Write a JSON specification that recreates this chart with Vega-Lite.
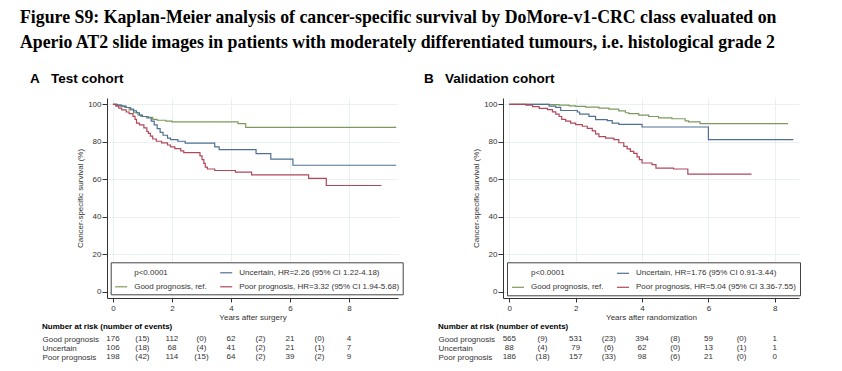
{
  "$schema": "https://vega.github.io/schema/vega-lite/v6.json",
  "background": "white",
  "padding": {"left": 20, "top": 8, "right": 43, "bottom": 11},
  "title": {
    "text": ["Figure S9: Kaplan-Meier analysis of cancer-specific survival by DoMore-v1-CRC class evaluated on", "Aperio AT2 slide images in patients with moderately differentiated tumours, i.e. histological grade 2"],
    "anchor": "start", "frame": "group", "dx": -87,
    "font": "Liberation Serif", "fontSize": 17.8, "fontWeight": "bold", "color": "#000",
    "lineHeight": 25, "offset": 20
  },
  "datasets": {
    "kmA": [
      {"g":"Good prognosis","t":0,"s":100},{"g":"Good prognosis","t":0.1,"s":99.6},{"g":"Good prognosis","t":0.25,"s":99},{"g":"Good prognosis","t":0.4,"s":98.3},{"g":"Good prognosis","t":0.55,"s":97},{"g":"Good prognosis","t":0.7,"s":95.5},{"g":"Good prognosis","t":0.85,"s":94.3},{"g":"Good prognosis","t":0.95,"s":93.5},{"g":"Good prognosis","t":1.2,"s":93},{"g":"Good prognosis","t":1.35,"s":92},{"g":"Good prognosis","t":1.5,"s":91.5},{"g":"Good prognosis","t":1.8,"s":91},{"g":"Good prognosis","t":2.0,"s":90.6},{"g":"Good prognosis","t":4.24,"s":89.7},{"g":"Good prognosis","t":4.5,"s":87.7},{"g":"Good prognosis","t":9.6,"s":87.7},
      {"g":"Uncertain","t":0,"s":100},{"g":"Uncertain","t":0.15,"s":99.5},{"g":"Uncertain","t":0.3,"s":99},{"g":"Uncertain","t":0.45,"s":98.3},{"g":"Uncertain","t":0.6,"s":97.5},{"g":"Uncertain","t":0.7,"s":96.5},{"g":"Uncertain","t":0.8,"s":95.5},{"g":"Uncertain","t":0.9,"s":94.2},{"g":"Uncertain","t":1.0,"s":93.5},{"g":"Uncertain","t":1.15,"s":92.7},{"g":"Uncertain","t":1.3,"s":91},{"g":"Uncertain","t":1.4,"s":89},{"g":"Uncertain","t":1.5,"s":87},{"g":"Uncertain","t":1.6,"s":85},{"g":"Uncertain","t":1.7,"s":83.5},{"g":"Uncertain","t":1.85,"s":82},{"g":"Uncertain","t":1.95,"s":81.2},{"g":"Uncertain","t":2.2,"s":80.3},{"g":"Uncertain","t":2.45,"s":79.3},{"g":"Uncertain","t":3.45,"s":77.3},{"g":"Uncertain","t":3.6,"s":75.8},{"g":"Uncertain","t":4.85,"s":73.7},{"g":"Uncertain","t":5.35,"s":70.8},{"g":"Uncertain","t":6.1,"s":67.5},{"g":"Uncertain","t":9.6,"s":67.5},
      {"g":"Poor prognosis","t":0,"s":100},{"g":"Poor prognosis","t":0.1,"s":99},{"g":"Poor prognosis","t":0.2,"s":98},{"g":"Poor prognosis","t":0.3,"s":97},{"g":"Poor prognosis","t":0.45,"s":95.9},{"g":"Poor prognosis","t":0.55,"s":95},{"g":"Poor prognosis","t":0.68,"s":93.6},{"g":"Poor prognosis","t":0.75,"s":92},{"g":"Poor prognosis","t":0.8,"s":90},{"g":"Poor prognosis","t":0.9,"s":89},{"g":"Poor prognosis","t":1.05,"s":87.4},{"g":"Poor prognosis","t":1.15,"s":85.5},{"g":"Poor prognosis","t":1.2,"s":84.5},{"g":"Poor prognosis","t":1.27,"s":83},{"g":"Poor prognosis","t":1.35,"s":81.5},{"g":"Poor prognosis","t":1.47,"s":80.3},{"g":"Poor prognosis","t":1.65,"s":79.4},{"g":"Poor prognosis","t":1.85,"s":78.3},{"g":"Poor prognosis","t":1.95,"s":77.3},{"g":"Poor prognosis","t":2.1,"s":76.4},{"g":"Poor prognosis","t":2.3,"s":75.2},{"g":"Poor prognosis","t":2.4,"s":74.2},{"g":"Poor prognosis","t":2.95,"s":72.5},{"g":"Poor prognosis","t":3.02,"s":70.5},{"g":"Poor prognosis","t":3.08,"s":68.5},{"g":"Poor prognosis","t":3.13,"s":66.5},{"g":"Poor prognosis","t":3.2,"s":65.5},{"g":"Poor prognosis","t":3.45,"s":64.7},{"g":"Poor prognosis","t":4.15,"s":63.8},{"g":"Poor prognosis","t":4.7,"s":62.4},{"g":"Poor prognosis","t":6.63,"s":60.5},{"g":"Poor prognosis","t":7.23,"s":56.7},{"g":"Poor prognosis","t":9.1,"s":56.7}
    ],
    "kmB": [
      {"g":"Good prognosis","t":0,"s":100},{"g":"Good prognosis","t":1.2,"s":99.8},{"g":"Good prognosis","t":1.5,"s":99.5},{"g":"Good prognosis","t":1.8,"s":99.2},{"g":"Good prognosis","t":2.0,"s":98.9},{"g":"Good prognosis","t":2.3,"s":98.5},{"g":"Good prognosis","t":2.7,"s":98},{"g":"Good prognosis","t":3.0,"s":97.4},{"g":"Good prognosis","t":3.3,"s":96.5},{"g":"Good prognosis","t":3.5,"s":95.5},{"g":"Good prognosis","t":3.6,"s":95},{"g":"Good prognosis","t":3.9,"s":94.2},{"g":"Good prognosis","t":4.2,"s":93.5},{"g":"Good prognosis","t":4.5,"s":92.8},{"g":"Good prognosis","t":4.9,"s":92.3},{"g":"Good prognosis","t":5.3,"s":91.2},{"g":"Good prognosis","t":5.4,"s":90.6},{"g":"Good prognosis","t":5.75,"s":89.7},{"g":"Good prognosis","t":8.4,"s":89.7},
      {"g":"Uncertain","t":0,"s":100},{"g":"Uncertain","t":1.2,"s":99},{"g":"Uncertain","t":1.4,"s":98.4},{"g":"Uncertain","t":1.55,"s":96.7},{"g":"Uncertain","t":2.05,"s":95.9},{"g":"Uncertain","t":2.12,"s":94.8},{"g":"Uncertain","t":2.4,"s":93.6},{"g":"Uncertain","t":2.6,"s":91.8},{"g":"Uncertain","t":2.95,"s":91.3},{"g":"Uncertain","t":3.1,"s":90},{"g":"Uncertain","t":3.3,"s":89.3},{"g":"Uncertain","t":4.0,"s":87.9},{"g":"Uncertain","t":6.0,"s":81.2},{"g":"Uncertain","t":8.56,"s":81.2},
      {"g":"Poor prognosis","t":0,"s":100},{"g":"Poor prognosis","t":0.5,"s":99.5},{"g":"Poor prognosis","t":0.7,"s":98.8},{"g":"Poor prognosis","t":0.9,"s":97.8},{"g":"Poor prognosis","t":1.15,"s":97.2},{"g":"Poor prognosis","t":1.3,"s":96},{"g":"Poor prognosis","t":1.4,"s":94.8},{"g":"Poor prognosis","t":1.5,"s":93.5},{"g":"Poor prognosis","t":1.58,"s":92},{"g":"Poor prognosis","t":1.7,"s":91},{"g":"Poor prognosis","t":1.85,"s":90},{"g":"Poor prognosis","t":2.0,"s":89.2},{"g":"Poor prognosis","t":2.2,"s":88.3},{"g":"Poor prognosis","t":2.35,"s":87.2},{"g":"Poor prognosis","t":2.5,"s":85.8},{"g":"Poor prognosis","t":2.6,"s":84.2},{"g":"Poor prognosis","t":2.7,"s":82.8},{"g":"Poor prognosis","t":2.9,"s":82},{"g":"Poor prognosis","t":3.15,"s":81.2},{"g":"Poor prognosis","t":3.3,"s":79.5},{"g":"Poor prognosis","t":3.45,"s":77.6},{"g":"Poor prognosis","t":3.55,"s":76.2},{"g":"Poor prognosis","t":3.65,"s":74.9},{"g":"Poor prognosis","t":3.75,"s":73.8},{"g":"Poor prognosis","t":3.85,"s":72},{"g":"Poor prognosis","t":3.92,"s":70.5},{"g":"Poor prognosis","t":4.0,"s":68.7},{"g":"Poor prognosis","t":4.3,"s":67.8},{"g":"Poor prognosis","t":4.42,"s":66},{"g":"Poor prognosis","t":4.95,"s":65.5},{"g":"Poor prognosis","t":5.38,"s":62.8},{"g":"Poor prognosis","t":7.3,"s":62.8}
    ],
    "riskA": [
      {"row":"Good prognosis","t":0,"v":"176"},{"row":"Good prognosis","t":1,"v":"(15)"},{"row":"Good prognosis","t":2,"v":"112"},{"row":"Good prognosis","t":3,"v":"(0)"},{"row":"Good prognosis","t":4,"v":"62"},{"row":"Good prognosis","t":5,"v":"(2)"},{"row":"Good prognosis","t":6,"v":"21"},{"row":"Good prognosis","t":7,"v":"(0)"},{"row":"Good prognosis","t":8,"v":"4"},
      {"row":"Uncertain","t":0,"v":"106"},{"row":"Uncertain","t":1,"v":"(18)"},{"row":"Uncertain","t":2,"v":"68"},{"row":"Uncertain","t":3,"v":"(4)"},{"row":"Uncertain","t":4,"v":"41"},{"row":"Uncertain","t":5,"v":"(2)"},{"row":"Uncertain","t":6,"v":"21"},{"row":"Uncertain","t":7,"v":"(1)"},{"row":"Uncertain","t":8,"v":"7"},
      {"row":"Poor prognosis","t":0,"v":"198"},{"row":"Poor prognosis","t":1,"v":"(42)"},{"row":"Poor prognosis","t":2,"v":"114"},{"row":"Poor prognosis","t":3,"v":"(15)"},{"row":"Poor prognosis","t":4,"v":"64"},{"row":"Poor prognosis","t":5,"v":"(2)"},{"row":"Poor prognosis","t":6,"v":"39"},{"row":"Poor prognosis","t":7,"v":"(2)"},{"row":"Poor prognosis","t":8,"v":"9"}
    ],
    "riskB": [
      {"row":"Good prognosis","t":0,"v":"565"},{"row":"Good prognosis","t":1,"v":"(9)"},{"row":"Good prognosis","t":2,"v":"531"},{"row":"Good prognosis","t":3,"v":"(23)"},{"row":"Good prognosis","t":4,"v":"394"},{"row":"Good prognosis","t":5,"v":"(8)"},{"row":"Good prognosis","t":6,"v":"59"},{"row":"Good prognosis","t":7,"v":"(0)"},{"row":"Good prognosis","t":8,"v":"1"},
      {"row":"Uncertain","t":0,"v":"88"},{"row":"Uncertain","t":1,"v":"(4)"},{"row":"Uncertain","t":2,"v":"79"},{"row":"Uncertain","t":3,"v":"(6)"},{"row":"Uncertain","t":4,"v":"62"},{"row":"Uncertain","t":5,"v":"(0)"},{"row":"Uncertain","t":6,"v":"13"},{"row":"Uncertain","t":7,"v":"(1)"},{"row":"Uncertain","t":8,"v":"1"},
      {"row":"Poor prognosis","t":0,"v":"186"},{"row":"Poor prognosis","t":1,"v":"(18)"},{"row":"Poor prognosis","t":2,"v":"157"},{"row":"Poor prognosis","t":3,"v":"(33)"},{"row":"Poor prognosis","t":4,"v":"98"},{"row":"Poor prognosis","t":5,"v":"(6)"},{"row":"Poor prognosis","t":6,"v":"21"},{"row":"Poor prognosis","t":7,"v":"(0)"},{"row":"Poor prognosis","t":8,"v":"0"}
    ]
  },
  "columns": 2,
  "bounds": "flush",
  "align": "each",
  "spacing": {"row": 41, "column": 105},
  "resolve": {
    "scale": {"x": "independent", "y": "independent", "color": "independent"},
    "legend": {"color": "independent"},
    "axis": {"x": "independent", "y": "independent"}
  },
  "config": {
    "view": {"stroke": null},
    "font": "Liberation Sans",
    "axis": {
      "labelFont": "Liberation Sans", "labelFontSize": 8, "labelColor": "#333",
      "titleFont": "Liberation Sans", "titleFontSize": 8, "titleFontWeight": "normal", "titleColor": "#333",
      "domainColor": "#333", "tickColor": "#333", "gridColor": "#e6eef0", "gridWidth": 0.8
    }
  },
  "concat": [
    {
      "width": 291, "height": 200,
      "title": {"text": "A\u00a0\u00a0\u00a0Test cohort", "anchor": "start", "frame": "group", "dx": -77, "font": "Liberation Sans", "fontSize": 13.5, "fontWeight": "bold", "color": "#000", "baseline": "alphabetic", "offset": 2},
      "data": {"name": "kmA"},
      "mark": {"type": "line", "interpolate": "step-after", "strokeWidth": 1.2},
      "encoding": {
        "x": {"field": "t", "type": "quantitative", "scale": {"domain": [-0.2, 9.66], "nice": false, "zero": false},
              "axis": {"values": [0, 2, 4, 6, 8], "title": "Years after surgery", "tickSize": 4, "labelPadding": 2, "titlePadding": 1, "grid": true}},
        "y": {"field": "s", "type": "quantitative", "scale": {"domain": [-3.25, 103.35], "nice": false, "zero": false},
              "axis": {"values": [0, 20, 40, 60, 80, 100], "title": "Cancer-specific survival (%)", "tickSize": 5, "labelPadding": 1, "titlePadding": 3, "grid": true}},
        "color": {"field": "g", "type": "nominal",
                  "scale": {"domain": ["p<0.0001", "Good prognosis", "Uncertain", "Poor prognosis"], "range": ["rgba(0,0,0,0)", "#7d9a5c", "#4f7094", "#b2475a"]},
                  "legend": {"orient": "none", "legendX": 3.7, "legendY": 164.3, "columns": 2, "title": null, "symbolType": "stroke", "symbolSize": 144, "symbolStrokeWidth": 1.2,
                             "labelFont": "Liberation Sans", "labelFontSize": 8, "labelColor": "#333", "labelOffset": 6, "labelLimit": 300, "rowPadding": 3, "columnPadding": 10, "padding": 3.5,
                             "strokeColor": "#444", "fillColor": "white",
                             "labelExpr": "datum.label == 'Uncertain' ? 'Uncertain, HR=2.26 (95% CI 1.22-4.18)' : datum.label == 'Poor prognosis' ? 'Poor prognosis, HR=3.32 (95% CI 1.94-5.68)' : datum.label == 'Good prognosis' ? 'Good prognosis, ref.' : datum.label"}}
      }
    },
    {
      "width": 296, "height": 200,
      "title": {"text": "B\u00a0\u00a0\u00a0Validation cohort", "anchor": "start", "frame": "group", "dx": -79, "font": "Liberation Sans", "fontSize": 13.5, "fontWeight": "bold", "color": "#000", "baseline": "alphabetic", "offset": 2},
      "data": {"name": "kmB"},
      "mark": {"type": "line", "interpolate": "step-after", "strokeWidth": 1.2},
      "encoding": {
        "x": {"field": "t", "type": "quantitative", "scale": {"domain": [-0.19, 8.73], "nice": false, "zero": false},
              "axis": {"values": [0, 2, 4, 6, 8], "title": "Years after randomization", "tickSize": 4, "labelPadding": 2, "titlePadding": 1, "grid": true}},
        "y": {"field": "s", "type": "quantitative", "scale": {"domain": [-3.25, 103.35], "nice": false, "zero": false},
              "axis": {"values": [0, 20, 40, 60, 80, 100], "title": "Cancer-specific survival (%)", "tickSize": 5, "labelPadding": 1, "titlePadding": 3, "grid": true}},
        "color": {"field": "g", "type": "nominal",
                  "scale": {"domain": ["p<0.0001", "Good prognosis", "Uncertain", "Poor prognosis"], "range": ["rgba(0,0,0,0)", "#7d9a5c", "#4f7094", "#b2475a"]},
                  "legend": {"orient": "none", "legendX": 4, "legendY": 164.3, "columns": 2, "title": null, "symbolType": "stroke", "symbolSize": 144, "symbolStrokeWidth": 1.2,
                             "labelFont": "Liberation Sans", "labelFontSize": 8, "labelColor": "#333", "labelOffset": 6, "labelLimit": 300, "rowPadding": 3, "columnPadding": 10, "padding": 4,
                             "strokeColor": "#444", "fillColor": "white",
                             "labelExpr": "datum.label == 'Uncertain' ? 'Uncertain, HR=1.76 (95% CI 0.91-3.44)' : datum.label == 'Poor prognosis' ? 'Poor prognosis, HR=5.04 (95% CI 3.36-7.55)' : datum.label == 'Good prognosis' ? 'Good prognosis, ref.' : datum.label"}}
      }
    },
    {
      "width": 291, "height": 18,
      "title": {"text": "Number at risk (number of events)", "anchor": "start", "frame": "group", "dx": -65, "font": "Liberation Sans", "fontSize": 8, "fontWeight": "bold", "color": "#000", "baseline": "alphabetic", "offset": -2},
      "data": {"name": "riskA"},
      "mark": {"type": "text", "font": "Liberation Sans", "fontSize": 8, "color": "#333", "baseline": "middle", "align": "center"},
      "encoding": {
        "x": {"field": "t", "type": "quantitative", "scale": {"domain": [-0.2, 9.66], "nice": false, "zero": false}, "axis": null},
        "y": {"field": "row", "type": "nominal", "scale": {"type": "point", "padding": 0, "domain": ["Good prognosis", "Uncertain", "Poor prognosis"]},
              "axis": {"title": null, "ticks": false, "domain": false, "grid": false, "labelAlign": "left", "labelPadding": 65, "labelFontSize": 8, "labelColor": "#333"}},
        "text": {"field": "v"}
      }
    },
    {
      "width": 296, "height": 18,
      "title": {"text": "Number at risk (number of events)", "anchor": "start", "frame": "group", "dx": -65, "font": "Liberation Sans", "fontSize": 8, "fontWeight": "bold", "color": "#000", "baseline": "alphabetic", "offset": -2},
      "data": {"name": "riskB"},
      "mark": {"type": "text", "font": "Liberation Sans", "fontSize": 8, "color": "#333", "baseline": "middle", "align": "center"},
      "encoding": {
        "x": {"field": "t", "type": "quantitative", "scale": {"domain": [-0.19, 8.73], "nice": false, "zero": false}, "axis": null},
        "y": {"field": "row", "type": "nominal", "scale": {"type": "point", "padding": 0, "domain": ["Good prognosis", "Uncertain", "Poor prognosis"]},
              "axis": {"title": null, "ticks": false, "domain": false, "grid": false, "labelAlign": "left", "labelPadding": 65, "labelFontSize": 8, "labelColor": "#333"}},
        "text": {"field": "v"}
      }
    }
  ]
}
